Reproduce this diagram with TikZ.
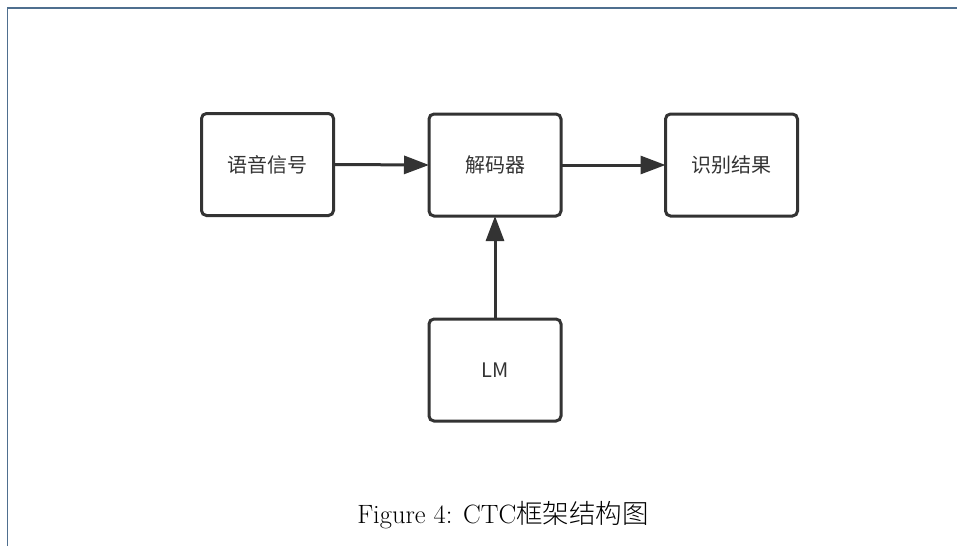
\documentclass[tikz,border=0pt]{standalone}
\usepackage{fontspec}
\usetikzlibrary{arrows.meta}
\newfontfamily\cjk{Noto Sans CJK SC}
\newfontfamily\cjklight{Noto Sans CJK SC Light}
\definecolor{ink}{HTML}{333333}
\definecolor{framecol}{HTML}{4F6F8F}
\begin{document}
\begin{tikzpicture}[x=1pt,y=-1pt,
  blockbox/.style={draw=ink, line width=3pt, rounded corners=5pt,
    minimum width=132pt, minimum height=102pt, inner sep=0pt, outer sep=0pt,
    text=ink, font=\cjk\fontsize{20}{22}\selectfont},
  flow/.style={draw=ink, line width=3pt,
    -{Triangle[length=25pt,width=18pt]}}]
  \useasboundingbox (0,0) rectangle (957,546);
  % page frame
  \draw[framecol, line width=1.5pt] (7.5,546) -- (7.5,8) -- (957,8);
  % blocks
  \node[blockbox] (sig) at (267.5,164.5) {语音信号};
  \node[blockbox] (dec) at (495,165) {解码器};
  \node[blockbox] (res) at (731.5,165) {识别结果};
  \node[blockbox] (lm)  at (495,370) {LM};
  % connectors
  \draw[flow] (sig.east) -- (dec.west);
  \draw[flow] (dec.east) -- (res.west);
  \draw[flow] (lm.north) -- (dec.south);
  % caption
  \node[anchor=base, inner sep=0pt, font=\fontsize{26.5}{30}\selectfont] (cap) at (503,523)
    {Figure 4: CTC{\cjklight 框架结构图}};
\end{tikzpicture}
\end{document}
